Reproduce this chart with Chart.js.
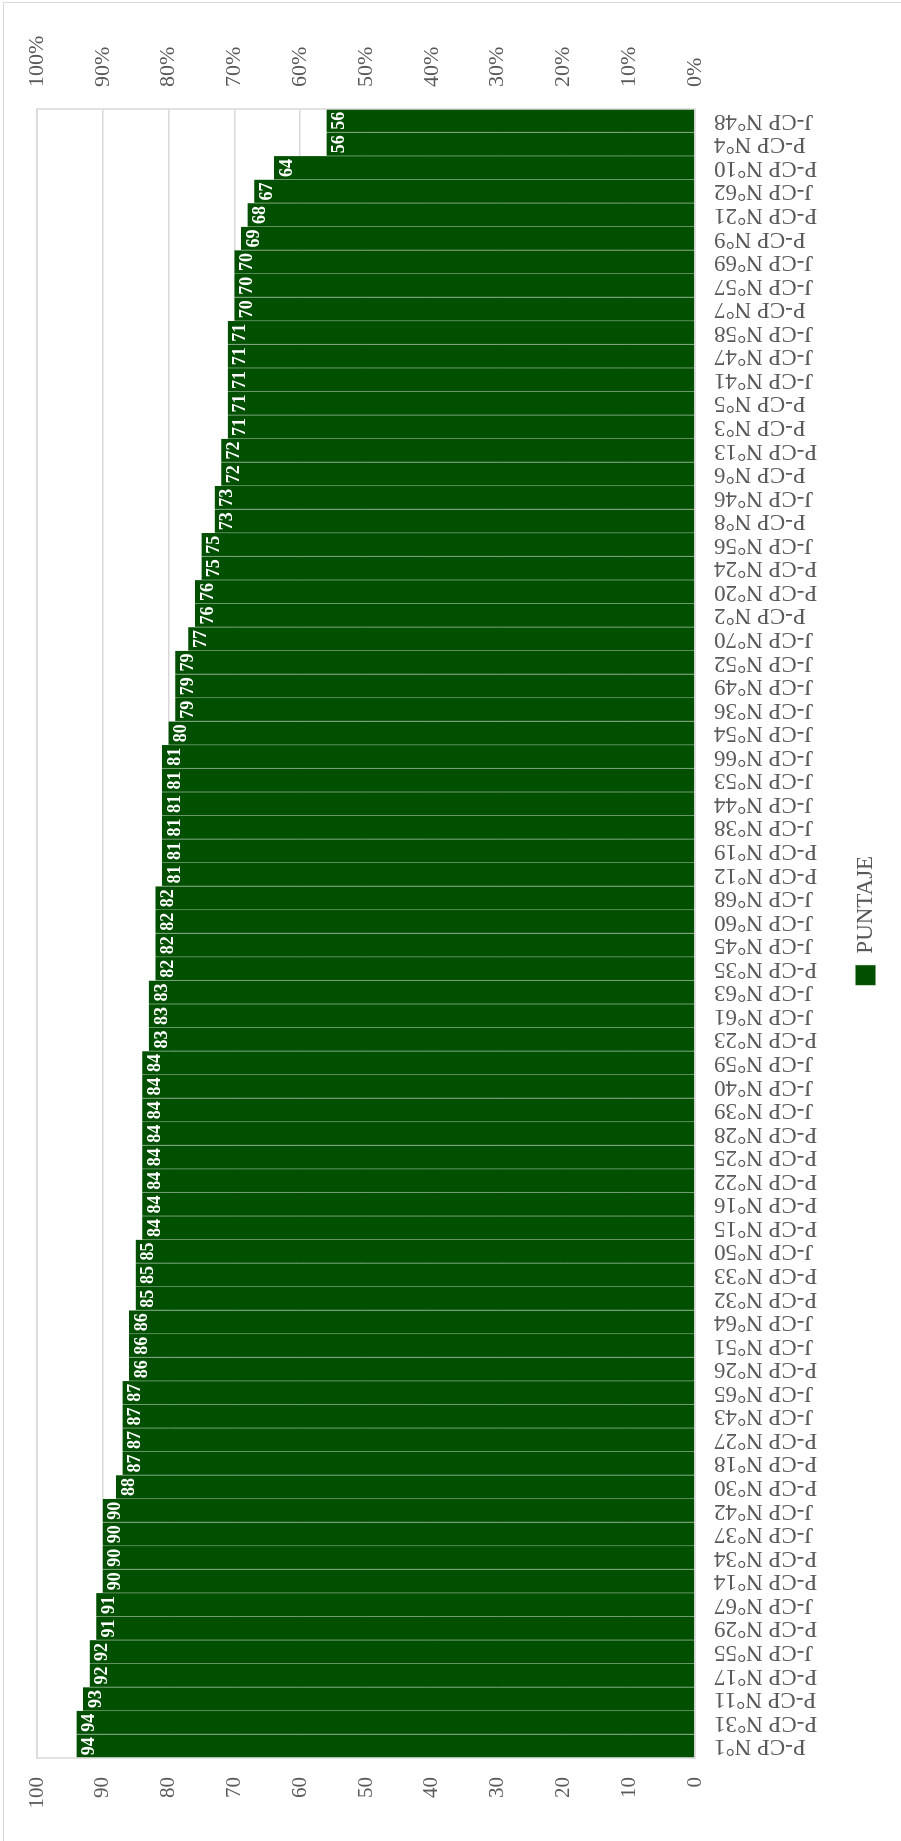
<!DOCTYPE html>
<html>
<head>
<meta charset="utf-8">
<script src="https://cdn.jsdelivr.net/npm/chart.js@4.4.1/dist/chart.umd.min.js"></script>
<style>
    html, body { margin: 0; padding: 0; background: #fff; overflow: hidden; }
    #frame {
        position: absolute; left: 3px; top: 2px; width: 1000px; height: 2000px;
        border-left: 1px solid #d9d9d9; border-top: 1px solid #d9d9d9;
    }
    #wrap {
        position: absolute; left: 0; top: 0; width: 1841px; height: 901px;
        transform-origin: 0 0;
        transform: translateY(1841px) rotate(-90deg);
    }
    #probe { position: absolute; left: -9999px; font-family: 'Liberation Serif'; }
</style>
</head>
<body>
<div id="frame"></div>
<span id="probe">P-CP N°1 <b>94</b></span>
<div id="wrap"><canvas id="puntajeChart" width="1841" height="901"></canvas></div>
<script>
// Categories, first one at the bottom of the (rotated) chart
const categories = [
    'P-CP N°1', 'P-CP N°31', 'P-CP N°11', 'P-CP N°17', 'J-CP N°55', 'P-CP N°29', 'J-CP N°67',
    'P-CP N°14', 'P-CP N°34', 'J-CP N°37', 'J-CP N°42', 'P-CP N°30', 'P-CP N°18', 'P-CP N°27',
    'J-CP N°43', 'J-CP N°65', 'P-CP N°26', 'J-CP N°51', 'J-CP N°64', 'P-CP N°32', 'P-CP N°33',
    'J-CP N°50', 'P-CP N°15', 'P-CP N°16', 'P-CP N°22', 'P-CP N°25', 'P-CP N°28', 'J-CP N°39',
    'J-CP N°40', 'J-CP N°59', 'P-CP N°23', 'J-CP N°61', 'J-CP N°63', 'P-CP N°35', 'J-CP N°45',
    'J-CP N°60', 'J-CP N°68', 'P-CP N°12', 'P-CP N°19', 'J-CP N°38', 'J-CP N°44', 'J-CP N°53',
    'J-CP N°66', 'J-CP N°54', 'J-CP N°36', 'J-CP N°49', 'J-CP N°52', 'J-CP N°70', 'P-CP N°2',
    'P-CP N°20', 'P-CP N°24', 'J-CP N°56', 'P-CP N°8', 'J-CP N°46', 'P-CP N°6', 'P-CP N°13',
    'P-CP N°3', 'P-CP N°5', 'J-CP N°41', 'J-CP N°47', 'J-CP N°58', 'P-CP N°7', 'J-CP N°57',
    'J-CP N°69', 'P-CP N°9', 'P-CP N°21', 'J-CP N°62', 'P-CP N°10', 'P-CP N°4', 'J-CP N°48'
];

const puntaje = [
    94, 94, 93, 92, 92, 91, 91, 90, 90, 90, 90, 88, 87, 87, 87, 87, 86, 86, 86, 85,
    85, 85, 84, 84, 84, 84, 84, 84, 84, 84, 83, 83, 83, 82, 82, 82, 82, 81, 81, 81,
    81, 81, 81, 80, 79, 79, 79, 77, 76, 76, 75, 75, 73, 73, 72, 72, 71, 71, 71, 71,
    71, 70, 70, 70, 69, 68, 67, 64, 56, 56
];

const seriesName = 'PUNTAJE';
const valueTicks = [0, 10, 20, 30, 40, 50, 60, 70, 80, 90, 100];

const serif = "'Liberation Serif'";
const textGray = '#595959';

// Value labels inside the end of each bar
const barLabels = {
    id: 'barLabels',
    afterDatasetsDraw(chart) {
        const ctx = chart.ctx;
        const meta = chart.getDatasetMeta(0);
        ctx.save();
        ctx.fillStyle = '#ffffff';
        ctx.font = 'bold 18px ' + serif;
        ctx.textAlign = 'center';
        ctx.textBaseline = 'top';
        meta.data.forEach((bar, i) => {
            ctx.fillText(String(puntaje[i]), bar.x, bar.y + 4);
        });
        ctx.restore();
    }
};

// Plot area frame
const plotFrame = {
    id: 'plotFrame',
    afterDraw(chart) {
        const a = chart.chartArea;
        const ctx = chart.ctx;
        ctx.save();
        ctx.strokeStyle = '#d9d9d9';
        ctx.lineWidth = 1.5;
        ctx.strokeRect(a.left, a.top, a.right - a.left, a.bottom - a.top);
        ctx.restore();
    }
};

function drawChart() {
    new Chart(document.getElementById('puntajeChart'), {
        type: 'bar',
        data: {
            labels: categories,
            datasets: [{
                label: seriesName,
                data: puntaje,
                backgroundColor: '#005000',
                borderColor: '#6f9a6f',
                borderWidth: { left: 1, right: 0, top: 0, bottom: 0 },
                borderSkipped: false,
                barPercentage: 1,
                categoryPercentage: 1,
                yAxisID: 'y'
            }]
        },
        options: {
            responsive: false,
            animation: false,
            devicePixelRatio: 1,
            layout: {
                padding: { top: 37, right: 0, bottom: 14, left: 0 }
            },
            plugins: {
                legend: {
                    position: 'bottom',
                    labels: {
                        boxWidth: 20,
                        boxHeight: 20,
                        color: textGray,
                        font: { family: serif, size: 23 }
                    }
                },
                tooltip: { enabled: false }
            },
            scales: {
                x: {
                    grid: { display: false, drawTicks: false },
                    border: { display: false },
                    ticks: {
                        autoSkip: false,
                        maxRotation: 90,
                        minRotation: 90,
                        padding: 19,
                        color: textGray,
                        font: { family: serif, size: 23 }
                    },
                    afterFit(scale) {
                        scale.height = 149;
                        scale.paddingLeft = 0;
                        scale.paddingRight = 0;
                    }
                },
                y: {
                    min: 0,
                    max: 100,
                    afterBuildTicks(scale) { scale.ticks = valueTicks.map(v => ({ value: v })); },
                    grid: { color: '#d9d9d9', lineWidth: 1.5, drawTicks: false },
                    border: { display: false },
                    ticks: {
                        padding: 19,
                        color: textGray,
                        font: { family: serif, size: 21 }
                    },
                    afterFit(scale) { scale.width = 83; }
                },
                y1: {
                    position: 'right',
                    min: 0,
                    max: 1,
                    afterBuildTicks(scale) { scale.ticks = valueTicks.map(v => ({ value: v / 100 })); },
                    grid: { display: false, drawTicks: false },
                    border: { display: false },
                    ticks: {
                        padding: 22,
                        color: textGray,
                        font: { family: serif, size: 22 },
                        callback: (v) => Math.round(v * 100) + '%'
                    },
                    afterFit(scale) { scale.width = 109; }
                }
            }
        },
        plugins: [barLabels, plotFrame]
    });
}

Promise.all([
    document.fonts.load("23px 'Liberation Serif'"),
    document.fonts.load("bold 18px 'Liberation Serif'")
]).then(drawChart, drawChart);
</script>
</body>
</html>
